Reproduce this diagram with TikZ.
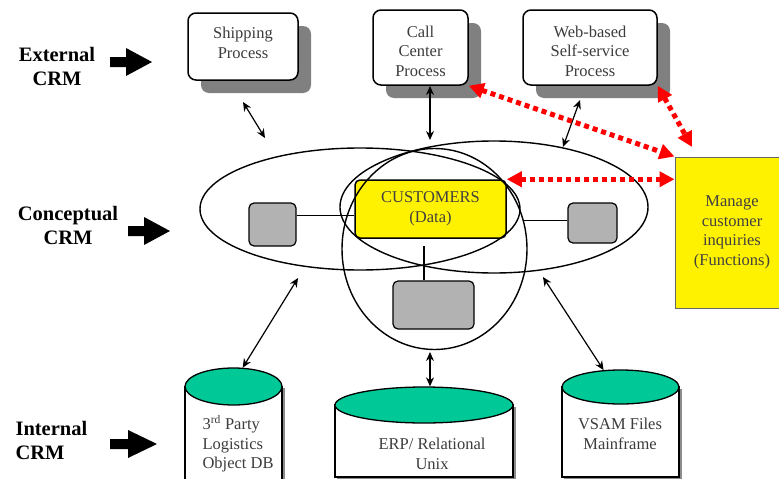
\documentclass[tikz,border=0pt]{standalone}
\usepackage{fontspec}
\setmainfont{Liberation Serif}
\usetikzlibrary{arrows.meta,shapes.geometric,shadows}
\definecolor{dbgreen}{RGB}{0,200,150}
\definecolor{boxgray}{RGB}{178,178,178}
\definecolor{txt}{RGB}{60,60,60}
\begin{document}
\begin{tikzpicture}[x=1pt,y=-1pt,
  every node/.style={font=\fontsize{16.5}{19.5}\selectfont, text=txt, align=center},
  process/.style={draw, line width=1.5pt, rounded corners=8pt, fill=white, inner sep=0pt,
    drop shadow={shadow xshift=13pt, shadow yshift=-13pt, fill=black!50, opacity=1}},
  unit/.style={draw, line width=1.2pt, rounded corners=5pt, fill=boxgray, inner sep=0pt},
  ring/.style={ellipse, draw, line width=1.4pt, inner sep=0pt},
  dbtop/.style={ellipse, draw, line width=1.3pt, fill=dbgreen, inner sep=0pt},
  dbbody/.style={draw, line width=1.3pt, fill=white},
  dbshade/.style={fill=black!45},
  link/.style={line width=1.2pt, {Stealth[length=9pt,width=8pt]}-{Stealth[length=9pt,width=8pt]}},
  flow/.style={red, line width=5pt, dash pattern=on 5pt off 4pt,
    {Triangle[length=15pt,width=15pt]}-{Triangle[length=15pt,width=15pt]}},
  layer/.style={font=\fontsize{20.5}{24}\selectfont\bfseries, text=black},
  pics/fatarrow/.style 2 args={code={
    \fill (0,-5) -- (#1,-5) -- (#1,-14) -- (#2,0) -- (#1,14) -- (#1,5) -- (0,5) -- cycle;}},
]
\useasboundingbox (0,0) rectangle (779,479);

% layer labels and their block arrows
\node[layer] (ext) at (57,66.5) {External\\CRM};
\node[layer] (con) at (68,225.5) {Conceptual\\CRM};
\node[layer, align=left, anchor=west] (int) at (12,440) {Internal\\CRM};
\pic at (110,62) {fatarrow={16}{42}};
\pic at (128,231) {fatarrow={16}{42}};
\pic at (110,444) {fatarrow={18}{47}};

% external processes
\node[process, minimum width=110pt, minimum height=67pt] (ship) at (243,46.5) {};
\node[process, minimum width=95pt, minimum height=75pt] (call) at (420.5,47.5) {};
\node[process, minimum width=134pt, minimum height=75pt] (web) at (590,47.5) {};
\node (shipText) at (243,43) {Shipping\\Process};
\node (callText) at (420.5,51) {Call\\Center\\Process};
\node (webText) at (590,51) {Web-based\\Self-service\\Process};

% function box
\node[draw=black!60, line width=1pt, fill=yellow, minimum width=114pt, minimum height=151pt,
      inner sep=0pt, text=black!75] (manage) at (732,232.5) {Manage\\customer\\inquiries\\(Functions)};

% data hub and conceptual units
\node[draw, line width=1.5pt, rounded corners=5pt, fill=yellow, minimum width=151pt, minimum height=58pt,
      inner sep=0pt, text=black!75] (cust) at (430.5,209) {CUSTOMERS\\(Data)};
\node[unit, minimum width=47pt, minimum height=43pt] (lbox) at (272.5,224.5) {};
\node[unit, minimum width=49pt, minimum height=40pt] (rbox) at (592.5,223) {};
\node[unit, minimum width=81pt, minimum height=48pt] (bbox) at (433.5,305) {};

\draw[line width=1.1pt] (lbox.20) -- (lbox.20 -| cust.west);
\draw[line width=1.1pt, shorten >=16pt] (rbox.175) -- (rbox.175 -| cust.east);
\draw[line width=1.1pt, shorten >=7pt] ([xshift=-9.5pt]bbox.north) -- ([xshift=-9.5pt]bbox.north |- cust.south);

% overlapping domains
\node[ring, minimum width=320pt, minimum height=122pt] (lring) at (360,209) {};
\node[ring, minimum width=308pt, minimum height=132pt] (rring) at (494,207) {};
\node[ring, minimum width=185pt, minimum height=201pt] (cring) at (434.5,249) {};

% internal data stores
\fill[dbshade] (187,388) rectangle (284.5,490);
\draw[dbbody] (185,386.5) rectangle (282,490);
\node[dbtop, minimum width=97pt, minimum height=37pt] (dbA) at (233.5,386.5) {};
\fill[dbshade] (337,407) rectangle (515.5,479.5);
\draw[dbbody] (335,405) rectangle (513,477);
\node[dbtop, minimum width=178pt, minimum height=36pt] (dbB) at (424,405) {};
\fill[dbshade] (564,389) rectangle (681.5,479.5);
\draw[dbbody] (562,387) rectangle (679,477);
\node[dbtop, minimum width=117pt, minimum height=34pt] (dbC) at (620.5,387) {};

\node[anchor=west, align=left] (dbAtext) at (199,444) {3\textsuperscript{rd} Party\\Logistics\\Object DB};
\node (dbBtext) at (432,454) {ERP/ Relational\\Unix};
\node (dbCtext) at (620,434) {VSAM Files\\Mainframe};

% exchanges between layers
\coordinate (shipA) at (243,102);
\coordinate (shipB) at (265,138);
\coordinate (callA) at (430,86);
\coordinate (callB) at (430,140);
\coordinate (webA) at (580,100);
\coordinate (webB) at (563,147);
\coordinate (lowA) at (298,278);
\coordinate (midA) at (430,352);
\coordinate (lowC) at (543,277);
\draw[link] (shipA) -- (shipB);
\draw[link] (callA) -- (callB);
\draw[link] (webA) -- (webB);
\draw[link] (lowA) -- (dbA.64);
\draw[link] (midA) -- (midA |- dbB.north);
\draw[link] (lowC) -- (dbC.135);

% function flows
\coordinate (webflow) at (692,147);
\draw[flow] (call.south east) -- (manage.north west);
\draw[flow] (web.south east) -- (webflow);
\draw[flow] (cust.north east) -- (cust.north east -| manage.west);
\end{tikzpicture}
\end{document}
